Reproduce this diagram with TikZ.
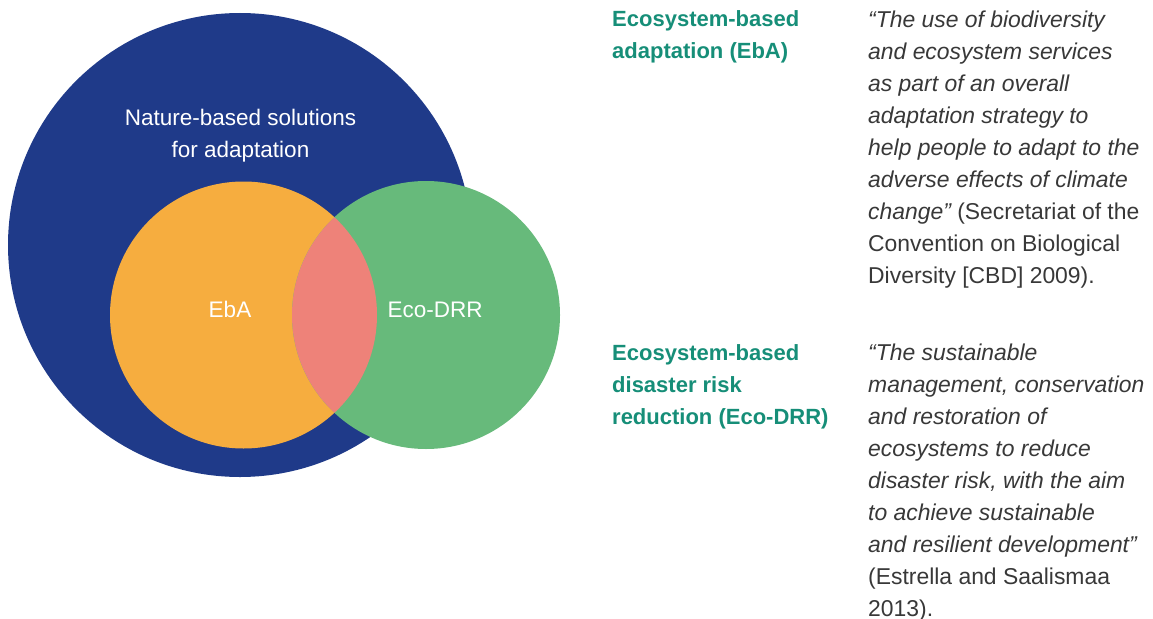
\documentclass[tikz,border=0pt]{standalone}
\usepackage{fontspec}
\setmainfont{Liberation Sans}
\definecolor{nbsblue}{HTML}{1F3A89}
\definecolor{ebaorange}{HTML}{F6AD3F}
\definecolor{drrgreen}{HTML}{67BA7B}
\definecolor{lensred}{HTML}{EE8279}
\definecolor{headteal}{HTML}{168E78}
\definecolor{bodygray}{HTML}{383838}
\begin{document}
\begin{tikzpicture}[x=1pt,y=-1pt]
\tikzset{
  disc/.style={circle,inner sep=0pt,minimum size=#1},
  inlabel/.style={text=white,align=center,inner sep=0pt,font=\fontsize{22.5}{32}\selectfont},
  heading/.style={text=headteal,align=left,anchor=base west,inner sep=0pt,font=\fontsize{22}{32}\selectfont\bfseries},
  quote/.style={text=bodygray,align=left,anchor=base west,inner sep=0pt,font=\fontsize{22.9}{32}\selectfont}
}
\useasboundingbox (0,0) rectangle (1153,618);
\node[disc=464pt,fill=nbsblue] (nbs) at (240,245) {};
\node[disc=267pt,fill=ebaorange] (eba) at (243.5,315) {};
\node[disc=268pt,fill=drrgreen] (drr) at (426,315) {};
\begin{scope}
  \clip (eba.center) circle (133.5pt);
  \fill[lensred] (drr.center) circle (134pt);
\end{scope}
% base anchor of a multi-line node = baseline of its last line
\node[inlabel,anchor=base] (nbstitle) at (240.5,157) {Nature-based solutions\\for adaptation};
\node[inlabel,anchor=base] (ebalabel) at (230,317) {EbA};
\node[inlabel,anchor=base] (drrlabel) at (435,317) {Eco-DRR};
\node[heading] (ebahead) at (612,59) {Ecosystem-based\\adaptation (EbA)};
\node[quote] (ebaquote) at (868,283) {\itshape “The use of biodiversity\\\itshape and ecosystem services\\\itshape as part of an overall\\\itshape adaptation strategy to\\\itshape help people to adapt to the\\\itshape adverse effects of climate\\{\itshape change”} (Secretariat of the\\Convention on Biological\\Diversity [CBD] 2009).};
\node[heading] (drrhead) at (612,424) {Ecosystem-based\\disaster risk\\reduction (Eco-DRR)};
\node[quote] (drrquote) at (868,616) {\itshape “The sustainable\\\itshape management, conservation\\\itshape and restoration of\\\itshape ecosystems to reduce\\\itshape disaster risk, with the aim\\\itshape to achieve sustainable\\\itshape and resilient development”\\(Estrella and Saalismaa\\2013).};
\end{tikzpicture}
\end{document}
